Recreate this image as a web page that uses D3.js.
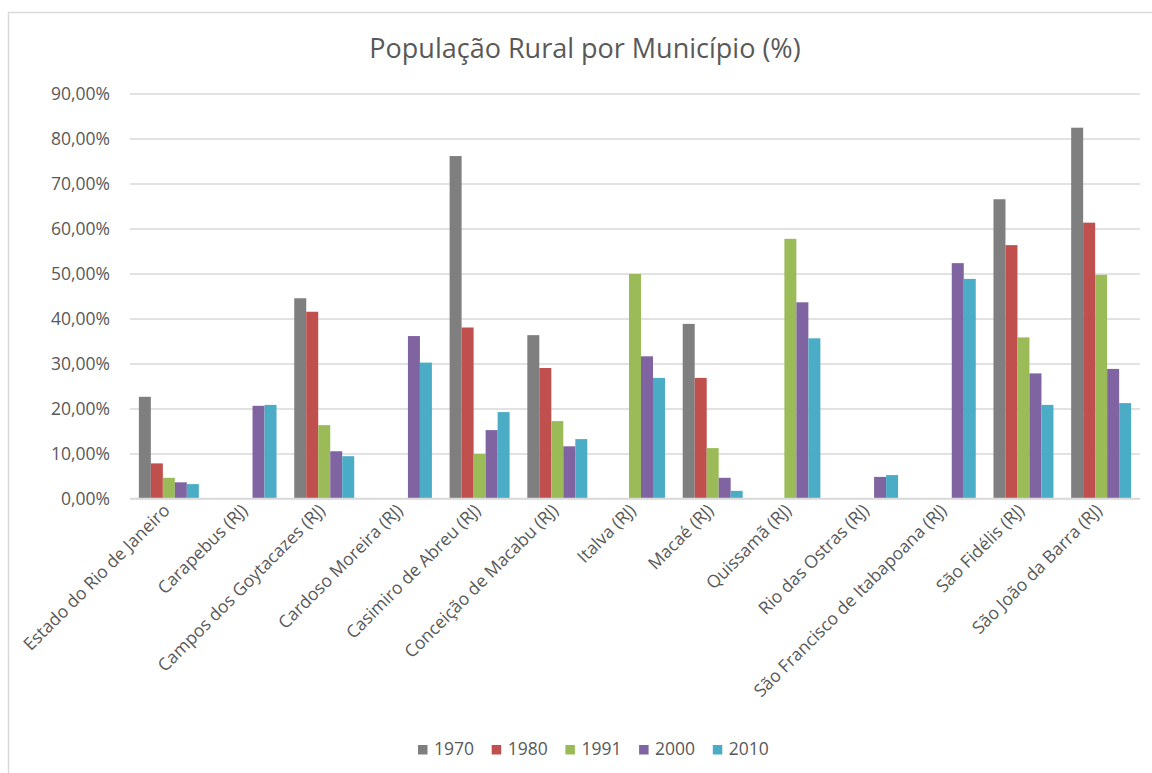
<!DOCTYPE html>
<html>
<head>
<meta charset="utf-8">
<script src="https://cdn.jsdelivr.net/npm/d3@7"></script>
<style>
  html, body { margin: 0; padding: 0; background: #fff; }
  svg { display: block; }
  text { font-family: "Open Sans", "Noto Sans", sans-serif; fill: #595959; }
</style>
</head>
<body>
<svg id="chart" width="1152" height="773"></svg>
<script>
// Rural population share (%) per municipality, by census year
const municipios = [
  "Estado do Rio de Janeiro",
  "Carapebus (RJ)",
  "Campos dos Goytacazes (RJ)",
  "Cardoso Moreira (RJ)",
  "Casimiro de Abreu (RJ)",
  "Conceição de Macabu (RJ)",
  "Italva (RJ)",
  "Macaé (RJ)",
  "Quissamã (RJ)",
  "Rio das Ostras (RJ)",
  "São Francisco de Itabapoana (RJ)",
  "São Fidélis (RJ)",
  "São João da Barra (RJ)"
];
const anos = ["1970", "1980", "1991", "2000", "2010"];

// null = municipality not yet created in that census
const v1970 = [22.6, null, 44.5, null, 76.1, 36.3, null, 38.8, null, null, null, 66.5, 82.4];
const v1980 = [7.8, null, 41.5, null, 38.0, 29.0, null, 26.8, null, null, null, 56.3, 61.3];
const v1991 = [4.6, null, 16.3, null, 9.9, 17.2, 49.9, 11.2, 57.7, null, null, 35.8, 49.7];
const v2000 = [3.6, 20.6, 10.5, 36.1, 15.2, 11.6, 31.6, 4.6, 43.6, 4.8, 52.3, 27.8, 28.8];
const v2010 = [3.2, 20.8, 9.4, 30.2, 19.2, 13.2, 26.8, 1.7, 35.6, 5.2, 48.8, 20.8, 21.2];

const yTicks = [0, 10, 20, 30, 40, 50, 60, 70, 80, 90];
const cores = ["#7f7f7f", "#c0504d", "#9bbb59", "#8064a2", "#4bacc6"];

const series = [v1970, v1980, v1991, v2000, v2010];

const svg = d3.select("#chart");

// chart area frame
svg.append("rect")
  .attr("x", 8.5).attr("y", 12.5)
  .attr("width", 1200).attr("height", 800)
  .attr("fill", "#fff")
  .attr("stroke", "#d9d9d9").attr("stroke-width", 1.5);

const plot = { left: 130, right: 1140, top: 93.5, bottom: 498.5 };

const x = d3.scaleBand()
  .domain(municipios)
  .range([plot.left, plot.right])
  .paddingInner(0.228)
  .paddingOuter(0.114);

const xs = d3.scaleBand()
  .domain(anos)
  .range([0, x.bandwidth()]);

const y = d3.scaleLinear()
  .domain([0, 90])
  .range([plot.bottom, plot.top]);

const fmt = v => d3.format(".2f")(v).replace(".", ",") + "%";

// gridlines + y labels
const yAxis = d3.axisLeft(y)
  .tickValues(yTicks)
  .tickSize(-(plot.right - plot.left))
  .tickPadding(20)
  .tickFormat(fmt);

const gy = svg.append("g")
  .attr("transform", `translate(${plot.left},0)`)
  .call(yAxis);
gy.select(".domain").remove();
gy.selectAll(".tick line")
  .attr("stroke", "#d9d9d9").attr("stroke-width", 1.5);
gy.selectAll(".tick text")
  .style("font-size", "17.5px")
  .attr("fill", "#595959");

// bars
const groups = svg.append("g")
  .selectAll("g")
  .data(municipios)
  .join("g")
  .attr("transform", d => `translate(${x(d)},0)`);

groups.selectAll("rect")
  .data((d, i) => anos.map((a, k) => ({ ano: a, v: series[k][i], k })).filter(e => e.v !== null))
  .join("rect")
  .attr("x", d => xs(d.ano))
  .attr("width", xs.bandwidth())
  .attr("y", d => y(d.v))
  .attr("height", d => y(0) - y(d.v))
  .attr("fill", d => cores[d.k]);

// category axis
const xAxis = d3.axisBottom(x).tickSize(0).tickSizeOuter(0);
const gx = svg.append("g")
  .attr("transform", `translate(0,${plot.bottom})`)
  .call(xAxis);
gx.select(".domain")
  .attr("stroke", "#d9d9d9").attr("stroke-width", 1.5)
  .attr("d", `M${plot.left},0H${plot.right}`);
gx.selectAll(".tick text")
  .style("font-size", "17.5px")
  .attr("fill", "#595959")
  .attr("text-anchor", "end")
  .attr("dy", null)
  .attr("y", null)
  .attr("transform", "translate(2,13) rotate(-45)");

// title
svg.append("text")
  .attr("x", 585).attr("y", 58)
  .attr("text-anchor", "middle")
  .style("font-size", "27px")
  .text("População Rural por Município (%)");

// legend
const leg = svg.append("g")
  .attr("transform", "translate(418,745)");
const item = leg.selectAll("g")
  .data(anos)
  .join("g")
  .attr("transform", (d, i) => `translate(${i * 73.7},0)`);
item.append("rect")
  .attr("width", 9.5).attr("height", 9.5)
  .attr("fill", (d, i) => cores[i]);
item.append("text")
  .attr("x", 16).attr("y", 10)
  .style("font-size", "17.5px")
  .text(d => d);
</script>
</body>
</html>
